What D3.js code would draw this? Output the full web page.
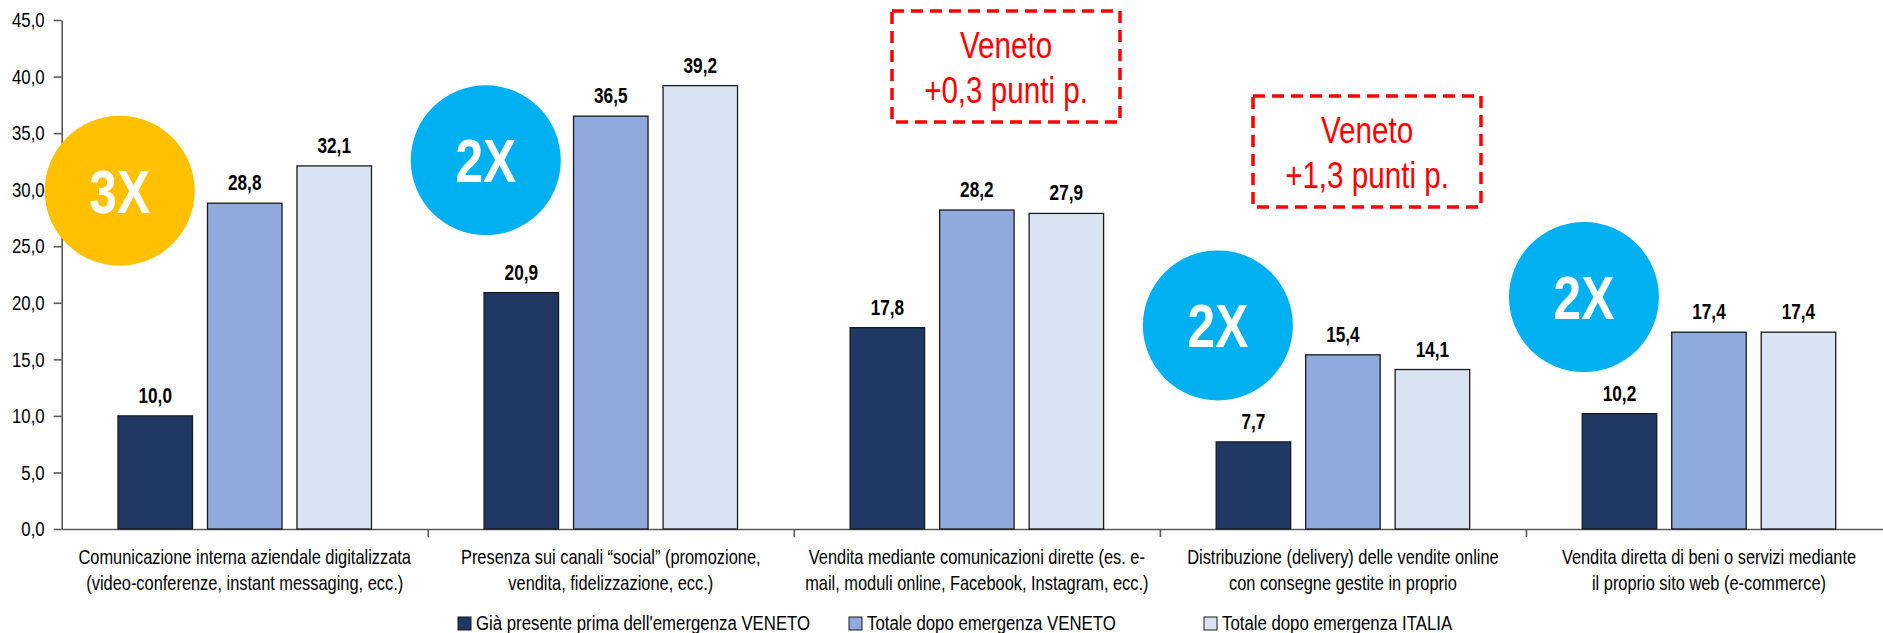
<!DOCTYPE html>
<html>
<head>
<meta charset="utf-8">
<script src="https://cdn.jsdelivr.net/npm/d3@7"></script>
<style>
body { margin:0; background:#fff; }
text { font-family:"Liberation Sans",Arial,sans-serif; }
</style>
</head>
<body>
<svg id="chart"></svg>
<script>
// categories (two label lines each)
var categories = ["cat1","cat2","cat3","cat4","cat5"];
var categoryLines = [
    ["Comunicazione interna aziendale digitalizzata","(video-conferenze, instant messaging, ecc.)"],
    ["Presenza sui canali \u201csocial\u201d (promozione,","vendita, fidelizzazione, ecc.)"],
    ["Vendita mediante comunicazioni dirette (es. e-","mail, moduli online, Facebook, Instagram, ecc.)"],
    ["Distribuzione (delivery) delle vendite online","con consegne gestite in proprio"],
    ["Vendita diretta di beni o servizi mediante","il proprio sito web (e-commerce)"]
];
var seriesNames = [
    "Gi\u00e0 presente prima dell'emergenza VENETO",
    "Totale dopo emergenza VENETO",
    "Totale dopo emergenza ITALIA"
];
var primaVeneto = [10.0, 20.9, 17.8, 7.7, 10.2];
var dopoVeneto  = [28.8, 36.5, 28.2, 15.4, 17.4];
var dopoItalia  = [32.1, 39.2, 27.9, 14.1, 17.4];
var yTicks = [0,5,10,15,20,25,30,35,40,45];

// badges: multiplier per category and the value level where they sit
var badgeText  = ["3X","2X","2X","2X"];
var badgeCat   = ["cat1","cat2","cat4","cat5"];
var badgeLevel = [29.9, 32.6, 18.0, 20.5];
var badgeColor = ["#FFC000","#00B0F0","#00B0F0","#00B0F0"];

// red dashed notes
var noteLines = [["Veneto","+0,3 punti p."],["Veneto","+1,3 punti p."]];

var colors = ["#203864","#8FAADC","#DAE3F3"];

var screen = {width:1883, height:633};
var plot = {left:61.7, right:1892, top:20, bottom:529};
var narrow = 0.8; // Arial Narrow look from Liberation Sans

var svg = d3.select("#chart")
    .attr("width",screen.width)
    .attr("height",screen.height);

var squeeze = function(x,y)
{
    return "translate("+x+","+y+") scale("+narrow+",1)";
}

var xScale = d3.scaleBand()
    .domain(categories)
    .range([plot.left,plot.right])
    .padding(0);

var xInner = d3.scaleBand()
    .domain([0,1,2])
    .range([0,xScale.bandwidth()])
    .paddingInner(0.1676)
    .paddingOuter(0.629);

var yScale = d3.scaleLinear()
    .domain([0,45])
    .range([plot.bottom,plot.top]);

var fmt = function(v){ return v.toFixed(1).replace(".",","); }

var table = categories.map(function(c,i){
    return {cat:c, values:[primaVeneto[i],dopoVeneto[i],dopoItalia[i]]};
});

// y axis
var yAxis = d3.axisLeft(yScale)
    .tickValues(yTicks)
    .tickSize(8)
    .tickSizeOuter(0)
    .tickFormat(fmt);

var yg = svg.append("g")
    .attr("transform","translate("+plot.left+",0)")
    .call(yAxis);
yg.select(".domain").attr("stroke","#595959").attr("stroke-width",1.6);
yg.selectAll(".tick line").attr("stroke","#595959").attr("stroke-width",1.6);
yg.selectAll(".tick text")
    .attr("x",0)
    .attr("transform",squeeze(-17,0))
    .attr("font-size",21)
    .attr("fill","#000")
    .style("font-family","'Liberation Sans',Arial,sans-serif");

// x axis with category separators
var xEdges = d3.scaleLinear().domain([0,5]).range([plot.left,plot.right]);
var xAxis = d3.axisBottom(xEdges)
    .tickValues([1,2,3,4])
    .tickSize(8)
    .tickSizeOuter(0)
    .tickFormat("");
var xg = svg.append("g")
    .attr("transform","translate(0,"+plot.bottom+")")
    .call(xAxis);
xg.select(".domain").attr("stroke","#595959").attr("stroke-width",1.6);
xg.selectAll(".tick line").attr("stroke","#595959").attr("stroke-width",1.6);

// bars
var groups = svg.selectAll(".grp")
    .data(table)
    .enter()
    .append("g")
    .attr("class","grp")
    .attr("transform",function(d){ return "translate("+xScale(d.cat)+",0)"; });

groups.selectAll("rect")
    .data(function(d){ return d.values; })
    .enter()
    .append("rect")
    .attr("x",function(v,i){ return xInner(i); })
    .attr("y",function(v){ return yScale(v); })
    .attr("width",xInner.bandwidth())
    .attr("height",function(v){ return yScale(0)-yScale(v); })
    .attr("fill",function(v,i){ return colors[i]; })
    .attr("stroke","#1a1a1a")
    .attr("stroke-width",1.3);

groups.selectAll(".val")
    .data(function(d){ return d.values; })
    .enter()
    .append("text")
    .attr("class","val")
    .attr("transform",function(v,i){
        return squeeze(xInner(i)+xInner.bandwidth()/2, yScale(v)-13);
    })
    .attr("text-anchor","middle")
    .attr("font-size",21.5)
    .attr("font-weight","bold")
    .text(fmt);

// category labels
var labels = svg.selectAll(".catlab")
    .data(categories)
    .enter()
    .append("text")
    .attr("class","catlab")
    .attr("transform",function(c){ return squeeze(xScale(c)+xScale.bandwidth()/2,0); })
    .attr("text-anchor","middle")
    .attr("font-size",20.5)
    .attr("fill","#000");
labels.each(function(c,i){
    var t = d3.select(this);
    categoryLines[i].forEach(function(line,j){
        t.append("tspan")
        .attr("x",0)
        .attr("y",564+j*26.5)
        .text(line);
    });
});

// legend
var legendX = [458,849,1204];
var legend = svg.selectAll(".leg")
    .data(seriesNames)
    .enter()
    .append("g")
    .attr("class","leg")
    .attr("transform",function(d,i){ return "translate("+legendX[i]+",617)"; });
legend.append("rect")
    .attr("width",13)
    .attr("height",13)
    .attr("fill",function(d,i){ return colors[i]; })
    .attr("stroke","#1a1a1a")
    .attr("stroke-width",1);
legend.append("text")
    .attr("transform",squeeze(18,13))
    .attr("font-size",21)
    .text(function(d){ return d; });

// badges
var badges = svg.selectAll(".badge")
    .data(badgeText)
    .enter()
    .append("g")
    .attr("class","badge")
    .attr("transform",function(d,i){
        return "translate("+(xScale(badgeCat[i])+58)+","+yScale(badgeLevel[i])+")";
    });
badges.append("circle")
    .attr("r",75)
    .attr("fill",function(d,i){ return badgeColor[i]; });
badges.append("text")
    .attr("text-anchor","middle")
    .attr("transform",squeeze(0,22))
    .attr("font-size",62)
    .attr("font-weight","bold")
    .attr("fill","#fff")
    .text(function(d){ return d; });

// notes
var noteBox = [{x:892,y:11,w:228,h:111},{x:1253,y:96,w:228,h:111}];
var notes = svg.selectAll(".note")
    .data(noteLines)
    .enter()
    .append("g")
    .attr("class","note")
    .attr("transform",function(d,i){ return "translate("+noteBox[i].x+","+noteBox[i].y+")"; });
notes.append("rect")
    .attr("width",function(d,i){ return noteBox[i].w; })
    .attr("height",function(d,i){ return noteBox[i].h; })
    .attr("fill","none")
    .attr("stroke","#FF0000")
    .attr("stroke-width",3.5)
    .attr("stroke-dasharray","12,7");
notes.each(function(d,i){
    var g = d3.select(this);
    d.forEach(function(line,j){
        g.append("text")
        .attr("transform",squeeze(noteBox[i].w/2,47+j*45))
        .attr("text-anchor","middle")
        .attr("font-size",37)
        .attr("fill","#FF0000")
        .text(line);
    });
});
</script>
</body>
</html>
